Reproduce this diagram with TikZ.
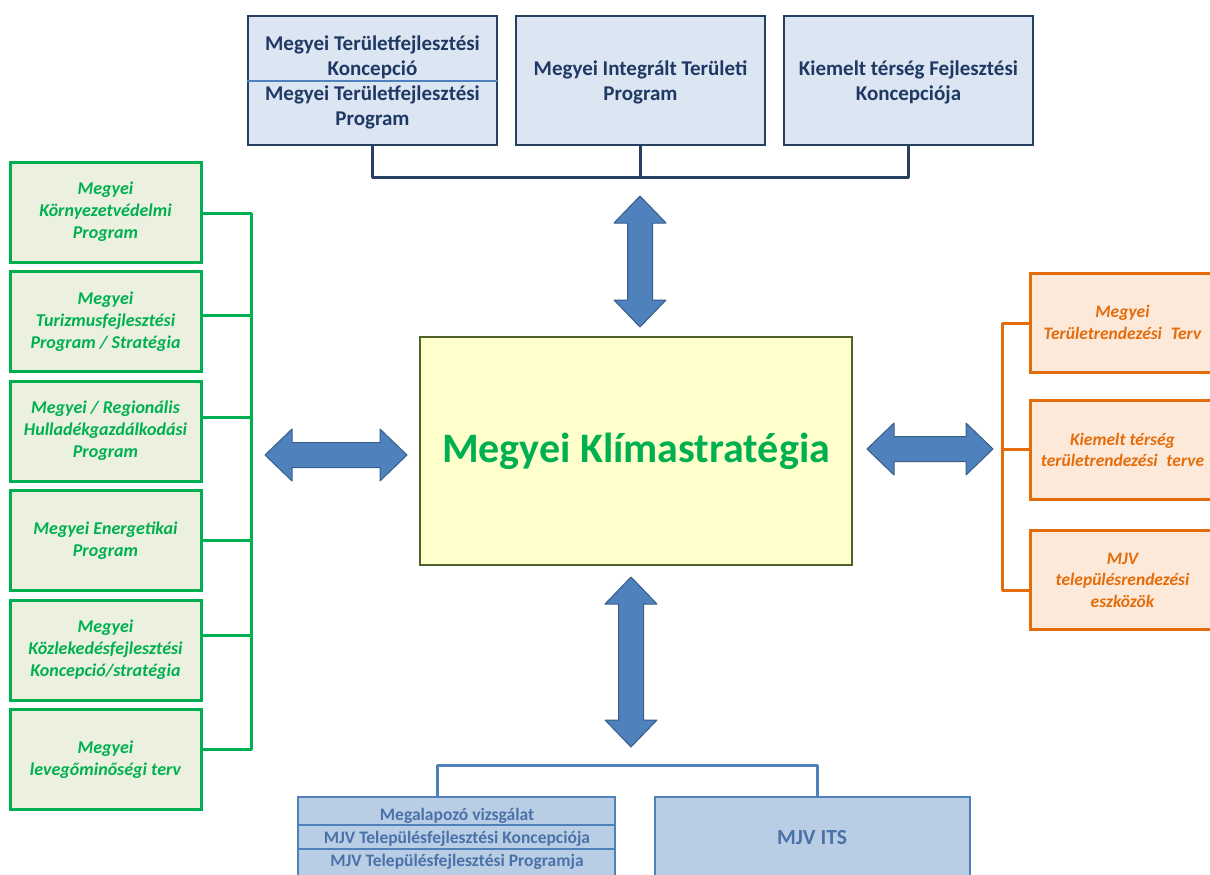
\documentclass[tikz,border=0pt]{standalone}
\usepackage{fontspec}
\setmainfont{Carlito}
\usetikzlibrary{calc}
\definecolor{navy}{HTML}{254061}
\definecolor{topfill}{HTML}{DCE6F2}
\definecolor{toptxt}{HTML}{1F3864}
\definecolor{midblue}{HTML}{4F81BD}
\definecolor{arrowline}{HTML}{385D8A}
\definecolor{botfill}{HTML}{B9CDE5}
\definecolor{bottxt}{HTML}{4A72A8}
\definecolor{grn}{HTML}{00B050}
\definecolor{gfill}{HTML}{EBF1DE}
\definecolor{org}{HTML}{E46C0A}
\definecolor{ofill}{HTML}{FDE9D9}
\definecolor{cfill}{HTML}{FFFFCC}
\definecolor{cborder}{HTML}{4F6228}
\newcommand\myVarrow[3]{\filldraw[barrow] (#1,#2) -- (#1+26,#2+27) -- (#1+12.5,#2+27) -- (#1+12.5,#3-27) -- (#1+26,#3-27) -- (#1,#3) -- (#1-26,#3-27) -- (#1-12.5,#3-27) -- (#1-12.5,#2+27) -- (#1-26,#2+27) -- cycle;}
\newcommand\myHarrow[3]{\filldraw[barrow] (#2,#1) -- (#2+27,#1-26) -- (#2+27,#1-12.5) -- (#3-27,#1-12.5) -- (#3-27,#1-26) -- (#3,#1) -- (#3-27,#1+26) -- (#3-27,#1+12.5) -- (#2+27,#1+12.5) -- (#2+27,#1+26) -- cycle;}
\begin{document}
\begin{tikzpicture}[x=1pt,y=-1pt,
  topbox/.style={draw=navy, line width=2.5pt, fill=topfill, minimum width=249pt, minimum height=129pt, inner sep=0pt},
  toptext/.style={text=toptxt, font=\fontsize{21}{25}\selectfont\bfseries, align=center, inner sep=0pt},
  gbox/.style={draw=grn, line width=3pt, fill=gfill, minimum width=191pt, minimum height=100pt, inner sep=2pt, font=\fontsize{18}{22}\selectfont\bfseries\itshape, text=grn, align=center},
  obox/.style={draw=org, line width=3pt, fill=ofill, minimum width=185pt, minimum height=99pt, inner sep=2pt, font=\fontsize{17.5}{21.5}\selectfont\bfseries\itshape, text=org, align=center},
  botbox/.style={draw=midblue, line width=2.5pt, fill=botfill, minimum height=100pt, inner sep=0pt},
  bottext/.style={text=bottxt, font=\fontsize{17.5}{20}\selectfont\bfseries, inner sep=0pt},
  navyline/.style={draw=navy, line width=3pt, line join=round},
  gline/.style={draw=grn, line width=3pt, line join=round},
  oline/.style={draw=org, line width=3pt, line join=round},
  bline/.style={draw=midblue, line width=3pt, line join=round},
  barrow/.style={fill=midblue, draw=arrowline, line width=1pt, line join=round}
]
\useasboundingbox (0,0) rectangle (1210,875);
\clip (0,0) rectangle (1210,875);
\fill[white] (0,0) rectangle (1210,875);

% top boxes
\node[topbox] (t1) at (372.5,80.5) {};
\draw[midblue, line width=1.2pt] (t1.west |- 0,81) -- (t1.east |- 0,81);
\node[toptext] (t1a) at (372.5,57) {Megyei Területfejlesztési\\Koncepció};
\node[toptext] (t1b) at (372.5,107) {Megyei Területfejlesztési\\Program};
\node[topbox] (t2) at (640.5,80.5) {};
\node[toptext] (t2a) at (640.5,82) {Megyei Integrált Területi\\Program};
\node[topbox] (t3) at (908.5,80.5) {};
\node[toptext] (t3a) at (908.5,82) {Kiemelt térség Fejlesztési\\Koncepciója};
\draw[navyline] (t1.south) -- ++(0,31) -| (t3.south);
\draw[navyline] (t2.south) -- ++(0,31);

% central box
\node[draw=cborder, line width=2pt, fill=cfill, minimum width=432pt, minimum height=228pt, inner sep=0pt,
  text=grn, font=\fontsize{42}{46}\selectfont\bfseries] (c) at (636,451) {\raisebox{-4pt}{Megyei Klímastratégia}};

% left green boxes
\node[gbox] (g1) at (105.5,212) {Megyei\\Környezetvédelmi\\Program};
\node[gbox] (g2) at (105.5,321.5) {Megyei\\Turizmusfejlesztési\\Program / Stratégia};
\node[gbox] (g3) at (105.5,431) {Megyei / Regionális\\Hulladékgazdálkodási\\Program};
\node[gbox] (g4) at (105.5,540.5) {Megyei Energetikai\\Program};
\node[gbox] (g5) at (105.5,650) {Megyei\\Közlekedésfejlesztési\\Koncepció/stratégia};
\node[gbox] (g6) at (105.5,759.5) {Megyei\\levegőminőségi terv};
\coordinate (gtop) at (251,213);
\coordinate (gbot) at (251,749);
\draw[gline] ($(g1.east)+(0,1)$) -- (gtop) -- (gbot) -- ($(g6.east)+(0,-10.5)$);
\draw[gline] ($(g2.east)+(0,-6.5)$) -- ++(50,0);
\draw[gline] ($(g3.east)+(0,-14)$) -- ++(50,0);
\draw[gline] ($(g4.east)+(0,-0.5)$) -- ++(50,0);
\draw[gline] ($(g5.east)+(0,-15)$) -- ++(50,0);

% right orange boxes
\node[obox] (o1) at (1122.5,322.5) {Megyei\\Területrendezési\enspace Terv};
\node[obox] (o2) at (1122.5,450) {Kiemelt térség\\területrendezési\enspace terve};
\node[obox] (o3) at (1122.5,580) {MJV\\településrendezési\\eszközök};
\coordinate (otop) at (1002,323);
\coordinate (obot) at (1002,590);
\draw[oline] ($(o1.west)+(0,0.5)$) -- (otop) -- (obot) -- ($(o3.west)+(0,10)$);
\draw[oline] ($(o2.west)+(0,-1)$) -- ++(-28,0);

% bottom boxes
\node[botbox, minimum width=317pt] (b1) at (456.5,847) {};
\draw[midblue, line width=1.5pt] (b1.west |- 0,825) -- (b1.east |- 0,825);
\draw[midblue, line width=1.5pt] (b1.west |- 0,849) -- (b1.east |- 0,849);
\node[bottext] (b1a) at (457,816) {Megalapozó vizsgálat};
\node[bottext] (b1b) at (457,839) {MJV Településfejlesztési Koncepciója};
\node[bottext] (b1c) at (457,862) {MJV Településfejlesztési Programja};
\node[botbox, minimum width=315pt] (b2) at (812.5,847) {};
\node[text=bottxt, font=\fontsize{21.5}{24}\selectfont\bfseries, inner sep=0pt] (b2a) at (812,838) {MJV ITS};
\coordinate (bl) at (437,797);
\coordinate (br) at (817,797);
\draw[bline] (bl) -- ++(0,-32) -| (br);

% block arrows
\myVarrow{640}{196}{327}
\myVarrow{631}{577}{747}
\myHarrow{455}{265}{407}
\myHarrow{449}{867}{993}
\end{tikzpicture}
\end{document}
